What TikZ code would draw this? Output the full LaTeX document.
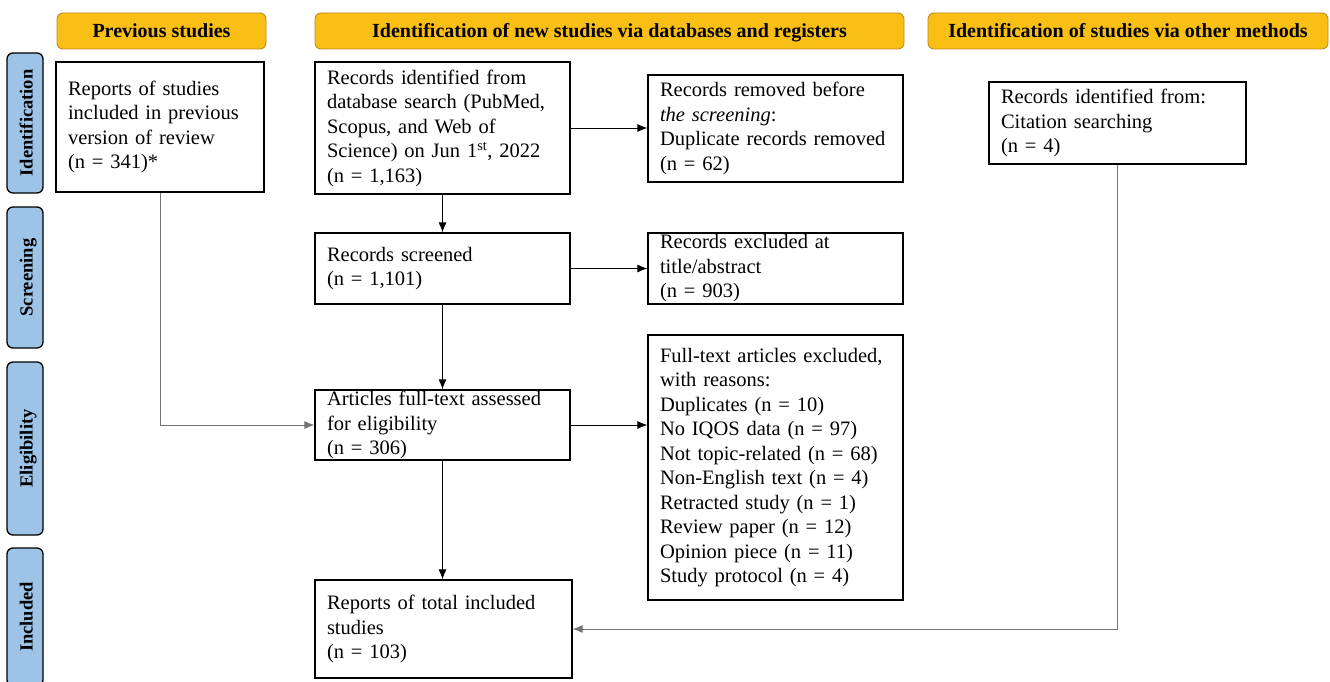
\documentclass[tikz,border=0pt]{standalone}
\usepackage{fontspec}
\setmainfont{Liberation Serif}
\usetikzlibrary{arrows.meta}
\definecolor{headfill}{RGB}{250,191,20}
\definecolor{headline}{RGB}{185,140,30}
\definecolor{sidefill}{RGB}{157,195,230}
\begin{document}
\begin{tikzpicture}[x=1pt,y=-1pt,
  box/.style={draw,line width=1.3pt,align=left,inner xsep=12pt,inner ysep=0pt,
    font=\fontsize{20.5}{24.5}\selectfont},
  head/.style={draw=headline,fill=headfill,line width=0.9pt,rounded corners=6pt,
    minimum height=36pt,inner sep=0pt,text height=15.5pt,text depth=2.5pt,
    font=\fontsize{20}{24}\selectfont\bfseries},
  side/.style={draw,fill=sidefill,line width=1.3pt,rounded corners=6pt,rotate=90,
    minimum height=36pt,inner sep=0pt,text height=16pt,text depth=1pt,
    font=\fontsize{18.5}{22}\selectfont\bfseries},
  link/.style={line width=0.9pt,-{Latex[length=10pt,width=8pt]}},
  glink/.style={link,draw=black!55}]
\useasboundingbox (0,0) rectangle (1330,682);

\node[head,minimum width=209pt] (hprev) at (161.5,31) {Previous studies};
\node[head,minimum width=589pt] (hdb) at (609.5,31) {Identification of new studies via databases and registers};
\node[head,minimum width=400pt] (hother) at (1128,31) {Identification of studies via other methods};

\node[side,minimum width=140pt] (sid) at (25,123) {Identification};
\node[side,minimum width=141pt] (sscr) at (25,277.5) {Screening};
\node[side,minimum width=173pt] (selig) at (25,448.5) {Eligibility};
\node[side,minimum width=138pt] (sinc) at (25,617) {Included};

\node[box,text width=184pt,minimum height=130pt] (prev) at (160,127)
  {Reports of studies\\included in previous\\version of review\\(n = 341)*};
\node[box,text width=231pt,minimum height=132pt] (ident) at (442.5,128)
  {Records identified from\\database search (PubMed,\\Scopus, and Web of\\Science) on Jun 1\textsuperscript{st}, 2022\\(n = 1,163)};
\node[box,text width=231pt,minimum height=107pt] (removed) at (775.5,128.5)
  {Records removed before\\\textit{the screening}:\\Duplicate records removed\\(n = 62)};
\node[box,text width=233pt,minimum height=82pt] (cite) at (1117.5,123)
  {Records identified from:\\Citation searching\\(n = 4)};
\node[box,text width=231pt,minimum height=71pt] (screen) at (442.5,268.5)
  {Records screened\\(n = 1,101)};
\node[box,text width=231pt,minimum height=71pt] (excl) at (775.5,268.5)
  {Records excluded at\\title/abstract\\(n = 903)};
\node[box,text width=231pt,minimum height=70pt] (full) at (442.5,425)
  {Articles full-text assessed\\for eligibility\\(n = 306)};
\node[box,text width=231pt,minimum height=265pt] (fexcl) at (775.5,467.5)
  {Full-text articles excluded,\\with reasons:\\Duplicates (n = 10)\\No IQOS data (n = 97)\\Not topic-related (n = 68)\\Non-English text (n = 4)\\Retracted study (n = 1)\\Review paper (n = 12)\\Opinion piece (n = 11)\\Study protocol (n = 4)};
\node[box,text width=233pt,minimum height=98pt] (total) at (443.5,629)
  {Reports of total included\\studies\\(n = 103)};

\draw[link] (ident) -- (screen);
\draw[link] (ident.east) -- (ident.east -| removed.west);
\draw[link] (screen) -- (excl);
\draw[link] (screen) -- (full);
\draw[link] (full.east) -- (full.east -| fexcl.west);
\draw[link] (full) -- (full.south |- total.north);
\draw[glink] (prev.south) |- (full.west);
\draw[glink] (cite.south) |- (total.east);
\end{tikzpicture}
\end{document}
